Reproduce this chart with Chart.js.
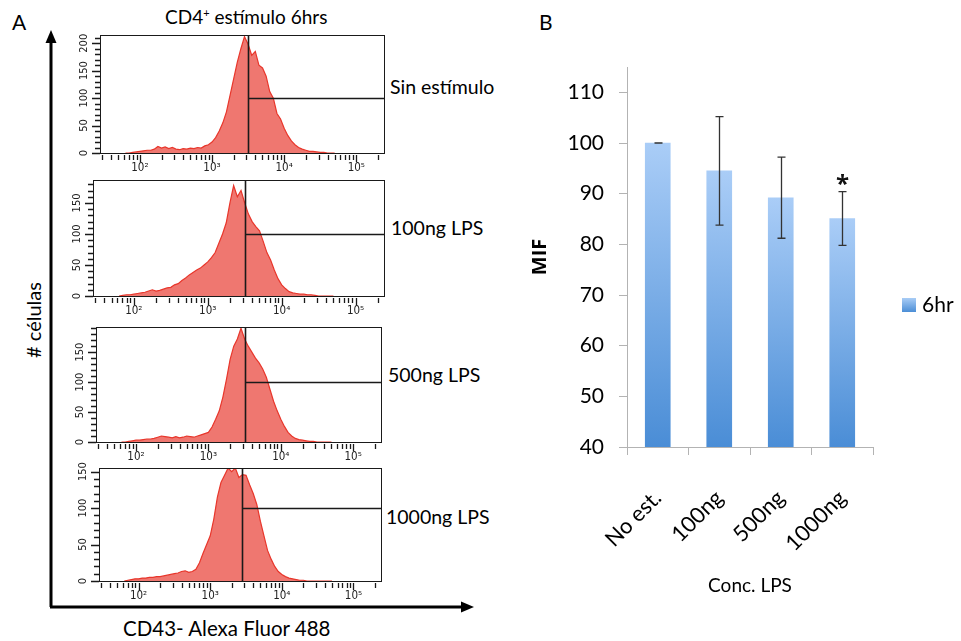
<!DOCTYPE html>
<html>
<head>
<meta charset="utf-8">
<script src="https://cdn.jsdelivr.net/npm/chart.js@4.4.1/dist/chart.umd.min.js"></script>
<style>
  body { margin: 0; background: #fff; }
  #page { position: relative; width: 961px; height: 641px; overflow: hidden; font-family: Lato, 'Open Sans', sans-serif; color: #000; }
  .box { position: absolute; }
  .lbl { position: absolute; white-space: nowrap; line-height: 1; }
</style>
</head>
<body>
<div id="page">
  <svg class="box" style="left:0;top:0" width="961" height="641">
    <line x1="51" y1="40" x2="51" y2="607" stroke="#000" stroke-width="3"/>
    <polygon points="51,30 45.5,43 56.5,43" fill="#000"/>
    <line x1="50" y1="607" x2="462" y2="607" stroke="#000" stroke-width="3"/>
    <polygon points="474,607 461,601.5 461,612.5" fill="#000"/>
  </svg>
  <div class="lbl" style="left:12px;top:11px;font-size:21px">A</div>
  <div class="lbl" style="left:539px;top:11px;font-size:21px">B</div>
  <div class="lbl" style="left:165px;top:7px;font-size:19px">CD4<sup style="font-size:11px;line-height:0">+</sup> estímulo 6hrs</div>
  <div class="lbl" style="left:-12px;top:310px;width:90px;text-align:center;font-size:20px;transform:rotate(-90deg);transform-origin:45px 10px;">
    # células</div>
  <div class="lbl" style="left:123px;top:618px;font-size:20.5px">CD43- Alexa Fluor 488</div>
  <div class="lbl" style="left:390px;top:77px;font-size:19.5px">Sin estímulo</div>
  <div class="lbl" style="left:391px;top:218px;font-size:19.5px">100ng LPS</div>
  <div class="lbl" style="left:388px;top:365px;font-size:19.5px">500ng LPS</div>
  <div class="lbl" style="left:386px;top:507px;font-size:19.5px">1000ng LPS</div>

  <div class="box" style="left:40px;top:27px;width:380px;height:148px"><canvas id="h1"></canvas></div>
  <div class="box" style="left:40px;top:172px;width:380px;height:146px"><canvas id="h2"></canvas></div>
  <div class="box" style="left:40px;top:319px;width:380px;height:145px"><canvas id="h3"></canvas></div>
  <div class="box" style="left:40px;top:460px;width:380px;height:143px"><canvas id="h4"></canvas></div>

  <div class="box" style="left:520px;top:0px;width:441px;height:641px"><canvas id="bars"></canvas></div>
</div>

<script>
// ---- panel A: CD43 histograms (log10 of fluorescence, cell counts) ----
const logBins = [1.80, 1.85, 1.90, 1.95, 2.00, 2.05, 2.10, 2.15, 2.20, 2.25,
  2.30, 2.35, 2.40, 2.45, 2.50, 2.55, 2.60, 2.65, 2.70, 2.75,
  2.80, 2.85, 2.90, 2.95, 3.00, 3.05, 3.10, 3.15, 3.20, 3.25,
  3.30, 3.35, 3.40, 3.45, 3.50, 3.55, 3.60, 3.65, 3.70, 3.75,
  3.80, 3.85, 3.90, 3.95, 4.00, 4.05, 4.10, 4.15, 4.20, 4.25,
  4.30, 4.35, 4.40, 4.45, 4.50, 4.55, 4.60, 4.65, 4.70];

const countsSinEst = [0, 0, 1, 2, 3, 4, 5, 5, 7, 12, 9, 11, 8, 10, 7, 6, 8, 7, 9, 8,
  10, 9, 13, 15, 20, 28, 40, 55, 75, 105, 135, 165, 190, 212, 198, 178, 185, 160, 155, 140,
  112, 100, 72, 62, 45, 32, 22, 15, 10, 7, 5, 3, 3, 2, 1, 1, 0, 0, 0];
const counts100ng = [0, 1, 2, 2, 3, 4, 5, 6, 8, 10, 8, 9, 11, 13, 14, 18, 20, 25, 29, 34,
  38, 42, 45, 50, 55, 62, 70, 85, 100, 118, 150, 178, 160, 170, 150, 132, 120, 112, 105, 88,
  70, 58, 42, 28, 18, 12, 7, 5, 4, 3, 3, 2, 2, 1, 0, 0, 0, 0, 0];
const counts500ng = [0, 0, 1, 2, 3, 3, 4, 5, 5, 6, 8, 10, 9, 8, 7, 9, 7, 8, 10, 9,
  8, 10, 12, 14, 16, 25, 38, 52, 75, 105, 138, 160, 172, 190, 172, 160, 150, 140, 132, 122,
  108, 88, 68, 52, 38, 26, 16, 10, 6, 4, 3, 2, 1, 1, 0, 0, 0, 0, 0];
const counts1000ng = [0, 1, 2, 3, 3, 4, 4, 5, 5, 6, 6, 7, 8, 9, 10, 11, 13, 14, 12, 13,
  16, 25, 38, 50, 62, 85, 115, 135, 145, 155, 150, 155, 142, 146, 145, 132, 120, 105, 82, 62,
  42, 30, 20, 13, 9, 6, 4, 3, 2, 1, 1, 0, 0, 0, 0, 0, 0, 0, 0];

const histCounts = [countsSinEst, counts100ng, counts500ng, counts1000ng];
const histMax = [215, 187, 192, 155];
const gateValues = [3160, 3160, 3160, 2780];
const gateLevel = 100;
const xTickValues = [100, 1000, 10000, 100000];
const xTickLabels = ['10²', '10³', '10⁴', '10⁵'];
const yTickLabels = [0, 50, 100, 150, 200];

// ---- panel B: MIF ----
const concLabels = ['No est.', '100ng', '500ng', '1000ng'];
const mifValues = [100, 94.5, 89.2, 85.1];
const mifErrors = [0, 10.7, 8.0, 5.3];
const mifSig = ['', '', '', '*'];
const seriesName = '6hr';

Chart.defaults.animation = false;
Chart.defaults.font.family = "Lato, 'Open Sans', sans-serif";

const flowPlugin = {
  id: 'flow',
  afterDatasetsDraw(chart, args, opts) {
    const { ctx, chartArea: a, scales: { x, y } } = chart;
    ctx.save();
    ctx.strokeStyle = '#1a1a1a';
    ctx.lineWidth = 1;
    ctx.strokeRect(a.left + 0.5, a.top + 0.5, a.right - a.left - 1, a.bottom - a.top);

    // gate marker
    const gx = Math.round(x.getPixelForValue(opts.gate)) + 0.5;
    const gy = Math.round(y.getPixelForValue(gateLevel)) + 0.5;
    ctx.lineWidth = 1.6;
    ctx.beginPath();
    ctx.moveTo(gx, a.top); ctx.lineTo(gx, a.bottom + 1);
    ctx.moveTo(gx, gy); ctx.lineTo(a.right, gy);
    ctx.stroke();

    // log ticks under the box
    ctx.lineWidth = 1.3;
    ctx.beginPath();
    for (let d = 1; d <= 5; d++) {
      for (let k = 1; k <= 9; k++) {
        const v = k * Math.pow(10, d);
        if (v < x.min || v > x.max) continue;
        const px = Math.round(x.getPixelForValue(v)) + 0.5;
        ctx.moveTo(px, a.bottom + 2);
        ctx.lineTo(px, a.bottom + (k === 1 ? 9 : 7));
      }
    }
    ctx.stroke();
    ctx.fillStyle = '#222';
    ctx.font = "11.5px 'Liberation Sans Narrow', 'DejaVu Sans Condensed', sans-serif";
    ctx.textAlign = 'center';
    ctx.textBaseline = 'middle';
    xTickValues.forEach((v, i) => ctx.fillText(xTickLabels[i], x.getPixelForValue(v), a.bottom + 15));

    // count ticks on the left
    ctx.beginPath();
    for (let v = 0; v <= y.max; v += 10) {
      const py = Math.round(y.getPixelForValue(v)) + 0.5;
      ctx.moveTo(a.left - (v % 50 === 0 ? 8 : 5), py);
      ctx.lineTo(a.left, py);
    }
    ctx.stroke();
    ctx.font = "11px 'Liberation Sans Narrow', 'DejaVu Sans Condensed', sans-serif";
    yTickLabels.filter(v => v <= y.max).forEach(v => {
      ctx.save();
      ctx.translate(a.left - 16, y.getPixelForValue(v));
      ctx.rotate(-Math.PI / 2);
      ctx.fillText(String(v), 0, 0);
      ctx.restore();
    });
    ctx.restore();
  }
};

// plot box edges for each histogram inside its canvas
const histPads = [
  { left: 60, top: 8, right: 35, bottom: 22 },
  { left: 53, top: 8, right: 35, bottom: 22 },
  { left: 56, top: 8, right: 38, bottom: 22 },
  { left: 59, top: 8, right: 38, bottom: 22 }
];

histCounts.forEach((counts, i) => {
  new Chart(document.getElementById('h' + (i + 1)), {
    type: 'line',
    data: {
      datasets: [{
        data: logBins.map((e, j) => ({ x: Math.pow(10, e), y: counts[j] })),
        borderColor: '#e8362b',
        borderWidth: 1.2,
        backgroundColor: 'rgba(238, 112, 104, 0.95)',
        fill: 'origin',
        pointRadius: 0,
        tension: 0
      }]
    },
    options: {
      responsive: true,
      maintainAspectRatio: false,
      layout: { padding: histPads[i] },
      scales: {
        x: { type: 'logarithmic', min: 28, max: 250000, display: false },
        y: { min: 0, max: histMax[i], display: false }
      },
      plugins: {
        legend: { display: false },
        tooltip: { enabled: false },
        flow: { gate: gateValues[i] }
      }
    },
    plugins: [flowPlugin]
  });
});

// ---- bar chart ----
const errorBarPlugin = {
  id: 'errorBars',
  afterDatasetsDraw(chart) {
    const { ctx, scales: { y } } = chart;
    const meta = chart.getDatasetMeta(0);
    ctx.save();
    ctx.strokeStyle = '#333';
    ctx.lineWidth = 1.3;
    meta.data.forEach((bar, i) => {
      const x = Math.round(bar.x) + 0.5;
      const hi = y.getPixelForValue(mifValues[i] + mifErrors[i]);
      const lo = y.getPixelForValue(mifValues[i] - mifErrors[i]);
      ctx.beginPath();
      ctx.moveTo(x, hi); ctx.lineTo(x, lo);
      ctx.moveTo(x - 4, hi); ctx.lineTo(x + 4, hi);
      ctx.moveTo(x - 4, lo); ctx.lineTo(x + 4, lo);
      ctx.stroke();
      if (mifSig[i]) {
        ctx.fillStyle = '#111';
        ctx.font = "bold 24px 'Open Sans', sans-serif";
        ctx.textAlign = 'center';
        ctx.textBaseline = 'middle';
        ctx.fillText(mifSig[i], x, hi - 6);
      }
    });

    // legend entry
    const a = chart.chartArea;
    const lx = a.right + 29, ly = 298;
    const g = ctx.createLinearGradient(0, ly, 0, ly + 14);
    g.addColorStop(0, '#a9cdf6');
    g.addColorStop(1, '#4b8ed6');
    ctx.fillStyle = g;
    ctx.fillRect(lx, ly, 14, 14);
    ctx.fillStyle = '#000';
    ctx.font = "21px Lato, sans-serif";
    ctx.textAlign = 'left';
    ctx.textBaseline = 'middle';
    ctx.fillText(seriesName, lx + 20, ly + 7);
    ctx.restore();
  }
};

new Chart(document.getElementById('bars'), {
  type: 'bar',
  data: {
    labels: concLabels,
    datasets: [{
      label: seriesName,
      data: mifValues,
      barThickness: 25,
      backgroundColor(c) {
        const chart = c.chart;
        if (!chart.chartArea || c.raw === undefined) return '#6fa8e6';
        const y = chart.scales.y;
        const top = y.getPixelForValue(c.raw);
        const base = y.getPixelForValue(y.min);
        const g = chart.ctx.createLinearGradient(0, top, 0, base);
        g.addColorStop(0, '#aacdf7');
        g.addColorStop(1, '#4a8dd6');
        return g;
      }
    }]
  },
  options: {
    responsive: true,
    maintainAspectRatio: false,
    layout: { padding: { top: 67, right: 88, bottom: 44, left: 0 } },
    scales: {
      y: {
        min: 40,
        max: 115,
        afterFit(s) { s.width = 107; },
        ticks: { stepSize: 10, includeBounds: false, color: '#000', font: { size: 21 }, padding: 15 },
        grid: { drawOnChartArea: false, tickLength: 8, color: '#b3b3b3' },
        border: { color: '#b3b3b3' },
        title: { display: true, text: 'MIF', color: '#000', font: { family: "'Open Sans', sans-serif", size: 20, weight: 'bold' }, padding: { top: 8, bottom: 0 } }
      },
      x: {
        afterFit(s) { s.height = 150; },
        ticks: { minRotation: 45, maxRotation: 45, color: '#000', font: { size: 22 }, padding: 30 },
        grid: { drawOnChartArea: false, tickLength: 8, offset: true, color: '#b3b3b3' },
        border: { color: '#b3b3b3' },
        title: { display: true, text: 'Conc. LPS', color: '#000', font: { size: 19 }, padding: { top: 0, bottom: 0 } }
      }
    },
    plugins: {
      legend: { display: false },
      tooltip: { enabled: false }
    }
  },
  plugins: [errorBarPlugin]
});
</script>
</body>
</html>
